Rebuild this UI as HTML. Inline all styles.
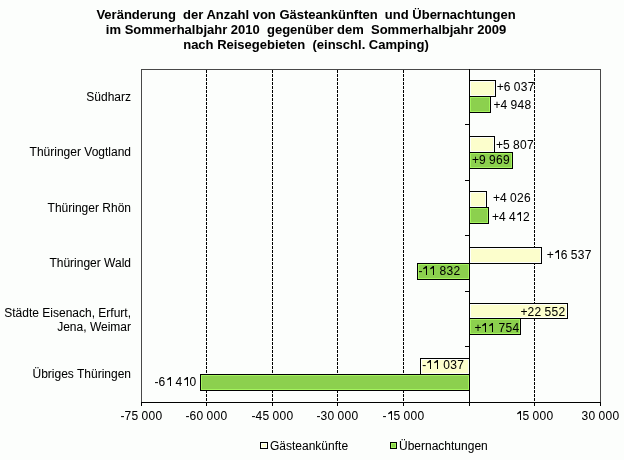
<!DOCTYPE html>
<html><head><meta charset="utf-8"><style>
html,body{margin:0;padding:0;background:#FCFEFC;}
body{width:624px;height:460px;position:relative;overflow:hidden;font-family:"Liberation Sans",sans-serif;}
svg{position:absolute;left:0;top:0;}
.t{position:absolute;font-size:12px;line-height:14px;white-space:pre;color:#000;}
.t i{font-style:normal;display:inline-block;text-align:left;} svg.one{position:static;vertical-align:baseline;} .c{text-align:center;} .r{text-align:right;}
.title{position:absolute;left:0;width:612px;text-align:center;font-weight:bold;font-size:13px;line-height:15px;white-space:pre;top:7px;}
.lb{position:absolute;width:6px;height:6px;border:1px solid #000;} .tx{position:absolute;left:0;top:0;width:624px;height:460px;filter:url(#sh);}
</style></head><body>
<svg width="0" height="0" style="position:absolute"><filter id="sh" x="0" y="0" width="100%" height="100%"><feColorMatrix type="saturate" values="0"/><feComponentTransfer><feFuncA type="gamma" amplitude="1" exponent="0.9" offset="0"/></feComponentTransfer></filter><filter id="sh2" x="0" y="0" width="100%" height="100%"><feColorMatrix type="saturate" values="0"/><feComponentTransfer><feFuncA type="gamma" amplitude="1" exponent="1.4" offset="0"/></feComponentTransfer></filter></svg>
<svg width="624" height="460" viewBox="0 0 624 460" shape-rendering="crispEdges">
<rect x="141.5" y="69.5" width="459" height="333" fill="none" stroke="#484848" stroke-width="1"/>
<line x1="206.5" y1="70" x2="206.5" y2="402" stroke="#000" stroke-dasharray="3 1"/>
<line x1="272.5" y1="70" x2="272.5" y2="402" stroke="#000" stroke-dasharray="3 1"/>
<line x1="337.5" y1="70" x2="337.5" y2="402" stroke="#000" stroke-dasharray="3 1"/>
<line x1="403.5" y1="70" x2="403.5" y2="402" stroke="#000" stroke-dasharray="3 1"/>
<line x1="534.5" y1="70" x2="534.5" y2="402" stroke="#000" stroke-dasharray="3 1"/>
<rect x="469.5" y="80.5" width="26" height="16" fill="#FCFECC" stroke="#000"/><rect x="470.5" y="81.5" width="24" height="14" fill="none" stroke="#FCFEFC"/>
<rect x="469.5" y="96.5" width="21" height="16" fill="#8CD04E" stroke="#000"/><rect x="470.5" y="97.5" width="19" height="14" fill="none" stroke="#A4F35E"/>
<rect x="469.5" y="136.5" width="25" height="16" fill="#FCFECC" stroke="#000"/><rect x="470.5" y="137.5" width="23" height="14" fill="none" stroke="#FCFEFC"/>
<rect x="469.5" y="152.5" width="43" height="16" fill="#8CD04E" stroke="#000"/><rect x="470.5" y="153.5" width="41" height="14" fill="none" stroke="#A4F35E"/>
<rect x="469.5" y="191.5" width="17" height="16" fill="#FCFECC" stroke="#000"/><rect x="470.5" y="192.5" width="15" height="14" fill="none" stroke="#FCFEFC"/>
<rect x="469.5" y="207.5" width="19" height="16" fill="#8CD04E" stroke="#000"/><rect x="470.5" y="208.5" width="17" height="14" fill="none" stroke="#A4F35E"/>
<rect x="469.5" y="247.5" width="72" height="16" fill="#FCFECC" stroke="#000"/><rect x="470.5" y="248.5" width="70" height="14" fill="none" stroke="#FCFEFC"/>
<rect x="417.5" y="263.5" width="52" height="16" fill="#8CD04E" stroke="#000"/><rect x="418.5" y="264.5" width="50" height="14" fill="none" stroke="#A4F35E"/>
<rect x="469.5" y="303.5" width="98" height="15" fill="#FCFECC" stroke="#000"/><rect x="470.5" y="304.5" width="96" height="13" fill="none" stroke="#FCFEFC"/>
<rect x="469.5" y="318.5" width="51" height="16" fill="#8CD04E" stroke="#000"/><rect x="470.5" y="319.5" width="49" height="14" fill="none" stroke="#A4F35E"/>
<rect x="420.5" y="358.5" width="49" height="16" fill="#FCFECC" stroke="#000"/><rect x="421.5" y="359.5" width="47" height="14" fill="none" stroke="#FCFEFC"/>
<rect x="200.5" y="374.5" width="269" height="16" fill="#8CD04E" stroke="#000"/><rect x="201.5" y="375.5" width="267" height="14" fill="none" stroke="#A4F35E"/>
<line x1="469.5" y1="69" x2="469.5" y2="402" stroke="#000"/>
<line x1="465" y1="124.5" x2="469" y2="124.5" stroke="#000"/>
<line x1="465" y1="180.5" x2="469" y2="180.5" stroke="#000"/>
<line x1="465" y1="235.5" x2="469" y2="235.5" stroke="#000"/>
<line x1="465" y1="291.5" x2="469" y2="291.5" stroke="#000"/>
<line x1="465" y1="346.5" x2="469" y2="346.5" stroke="#000"/>
<line x1="141" y1="402.5" x2="601" y2="402.5" stroke="#000"/>
<line x1="141.5" y1="402" x2="141.5" y2="406" stroke="#000"/>
<line x1="206.5" y1="402" x2="206.5" y2="406" stroke="#000"/>
<line x1="272.5" y1="402" x2="272.5" y2="406" stroke="#000"/>
<line x1="337.5" y1="402" x2="337.5" y2="406" stroke="#000"/>
<line x1="403.5" y1="402" x2="403.5" y2="406" stroke="#000"/>
<line x1="469.5" y1="402" x2="469.5" y2="406" stroke="#000"/>
<line x1="534.5" y1="402" x2="534.5" y2="406" stroke="#000"/>
<line x1="600.5" y1="402" x2="600.5" y2="406" stroke="#000"/>
</svg>
<div class="tx">
<div class="title">Veränderung  der Anzahl von Gästeankünften  und Übernachtungen
im Sommerhalbjahr 2010  gegenüber dem  Sommerhalbjahr 2009
nach Reisegebieten  (einschl. Camping)</div>
<div class="t c" style="left:91.5px;top:409px;width:100px"><i style="width:4px">-</i><i style="width:7px">7</i><i style="width:7px">5</i><i style="width:3px"> </i><i style="width:7px">0</i><i style="width:7px">0</i><i style="width:7px">0</i></div><div class="t c" style="left:156.5px;top:409px;width:100px"><i style="width:4px">-</i><i style="width:7px">6</i><i style="width:7px">0</i><i style="width:3px"> </i><i style="width:7px">0</i><i style="width:7px">0</i><i style="width:7px">0</i></div><div class="t c" style="left:222.5px;top:409px;width:100px"><i style="width:4px">-</i><i style="width:7px">4</i><i style="width:7px">5</i><i style="width:3px"> </i><i style="width:7px">0</i><i style="width:7px">0</i><i style="width:7px">0</i></div><div class="t c" style="left:287.5px;top:409px;width:100px"><i style="width:4px">-</i><i style="width:7px">3</i><i style="width:7px">0</i><i style="width:3px"> </i><i style="width:7px">0</i><i style="width:7px">0</i><i style="width:7px">0</i></div><div class="t c" style="left:353.5px;top:409px;width:100px"><i style="width:4px">-</i><i style="width:7px"><svg class="one" width="7" height="9" viewBox="0 0 7 9"><path d="M4 0H5V9H4V2.2L1.2 3.3V2.3Z" fill="#000"/></svg></i><i style="width:7px">5</i><i style="width:3px"> </i><i style="width:7px">0</i><i style="width:7px">0</i><i style="width:7px">0</i></div><div class="t c" style="left:484.5px;top:409px;width:100px"><i style="width:7px"><svg class="one" width="7" height="9" viewBox="0 0 7 9"><path d="M4 0H5V9H4V2.2L1.2 3.3V2.3Z" fill="#000"/></svg></i><i style="width:7px">5</i><i style="width:3px"> </i><i style="width:7px">0</i><i style="width:7px">0</i><i style="width:7px">0</i></div><div class="t c" style="left:550.5px;top:409px;width:100px"><i style="width:7px">3</i><i style="width:7px">0</i><i style="width:3px"> </i><i style="width:7px">0</i><i style="width:7px">0</i><i style="width:7px">0</i></div><div class="t r" style="left:0px;width:131px;top:90px">Südharz</div><div class="t r" style="left:0px;width:131px;top:145px">Thüringer Vogtland</div><div class="t r" style="left:0px;width:131px;top:200.5px">Thüringer Rhön</div><div class="t r" style="left:0px;width:131px;top:255.5px">Thüringer Wald</div><div class="t r" style="left:0px;width:131px;top:305.5px">Städte Eisenach, Erfurt,</div><div class="t r" style="left:0px;width:131px;top:319.5px">Jena, Weimar</div><div class="t r" style="left:0px;width:131px;top:366.5px">Übriges Thüringen</div><div class="t" style="left:496.79999999999995px;top:80px"><i style="width:7px">+</i><i style="width:7px">6</i><i style="width:3px"> </i><i style="width:7px">0</i><i style="width:7px">3</i><i style="width:7px">7</i></div><div class="t" style="left:493.4px;top:98px"><i style="width:7px">+</i><i style="width:7px">4</i><i style="width:3px"> </i><i style="width:7px">9</i><i style="width:7px">4</i><i style="width:7px">8</i></div><div class="t" style="left:495.9px;top:137.5px"><i style="width:7px">+</i><i style="width:7px">5</i><i style="width:3px"> </i><i style="width:7px">8</i><i style="width:7px">0</i><i style="width:7px">7</i></div><div class="t" style="left:471.9px;top:153px"><i style="width:7px">+</i><i style="width:7px">9</i><i style="width:3px"> </i><i style="width:7px">9</i><i style="width:7px">6</i><i style="width:7px">9</i></div><div class="t" style="left:493.09999999999997px;top:191px"><i style="width:7px">+</i><i style="width:7px">4</i><i style="width:3px"> </i><i style="width:7px">0</i><i style="width:7px">2</i><i style="width:7px">6</i></div><div class="t" style="left:491.9px;top:209.5px"><i style="width:7px">+</i><i style="width:7px">4</i><i style="width:3px"> </i><i style="width:7px">4</i><i style="width:7px"><svg class="one" width="7" height="9" viewBox="0 0 7 9"><path d="M4 0H5V9H4V2.2L1.2 3.3V2.3Z" fill="#000"/></svg></i><i style="width:7px">2</i></div><div class="t" style="left:546.8px;top:247.5px"><i style="width:7px">+</i><i style="width:7px"><svg class="one" width="7" height="9" viewBox="0 0 7 9"><path d="M4 0H5V9H4V2.2L1.2 3.3V2.3Z" fill="#000"/></svg></i><i style="width:7px">6</i><i style="width:3px"> </i><i style="width:7px">5</i><i style="width:7px">3</i><i style="width:7px">7</i></div><div class="t" style="left:418.4px;top:264px"><i style="width:4px">-</i><i style="width:7px"><svg class="one" width="7" height="9" viewBox="0 0 7 9"><path d="M4 0H5V9H4V2.2L1.2 3.3V2.3Z" fill="#000"/></svg></i><i style="width:7px"><svg class="one" width="7" height="9" viewBox="0 0 7 9"><path d="M4 0H5V9H4V2.2L1.2 3.3V2.3Z" fill="#000"/></svg></i><i style="width:3px"> </i><i style="width:7px">8</i><i style="width:7px">3</i><i style="width:7px">2</i></div><div class="t" style="left:520.6px;top:304.5px"><i style="width:7px">+</i><i style="width:7px">2</i><i style="width:7px">2</i><i style="width:3px"> </i><i style="width:7px">5</i><i style="width:7px">5</i><i style="width:7px">2</i></div><div class="t" style="left:474.4px;top:320.5px"><i style="width:7px">+</i><i style="width:7px"><svg class="one" width="7" height="9" viewBox="0 0 7 9"><path d="M4 0H5V9H4V2.2L1.2 3.3V2.3Z" fill="#000"/></svg></i><i style="width:7px"><svg class="one" width="7" height="9" viewBox="0 0 7 9"><path d="M4 0H5V9H4V2.2L1.2 3.3V2.3Z" fill="#000"/></svg></i><i style="width:3px"> </i><i style="width:7px">7</i><i style="width:7px">5</i><i style="width:7px">4</i></div><div class="t" style="left:422.2px;top:358px"><i style="width:4px">-</i><i style="width:7px"><svg class="one" width="7" height="9" viewBox="0 0 7 9"><path d="M4 0H5V9H4V2.2L1.2 3.3V2.3Z" fill="#000"/></svg></i><i style="width:7px"><svg class="one" width="7" height="9" viewBox="0 0 7 9"><path d="M4 0H5V9H4V2.2L1.2 3.3V2.3Z" fill="#000"/></svg></i><i style="width:3px"> </i><i style="width:7px">0</i><i style="width:7px">3</i><i style="width:7px">7</i></div><div class="t" style="left:154.5px;top:375px"><i style="width:4px">-</i><i style="width:7px">6</i><i style="width:7px"><svg class="one" width="7" height="9" viewBox="0 0 7 9"><path d="M4 0H5V9H4V2.2L1.2 3.3V2.3Z" fill="#000"/></svg></i><i style="width:3px"> </i><i style="width:7px">4</i><i style="width:7px"><svg class="one" width="7" height="9" viewBox="0 0 7 9"><path d="M4 0H5V9H4V2.2L1.2 3.3V2.3Z" fill="#000"/></svg></i><i style="width:7px">0</i></div>
<div class="t" style="left:270px;top:439px">Gästeankünfte</div>
<div class="t" style="left:399px;top:439px">Übernachtungen</div>
</div>
<div class="lb" style="left:260px;top:442px;width:6px;height:5px;background:#FCFECC;box-shadow:inset 0 0 0 1px #FCFEFC"></div>
<div class="lb" style="left:390px;top:442px;width:5px;height:5px;background:#8CD04E;box-shadow:inset 0 0 0 1px #A4F35E"></div>
</body></html>
